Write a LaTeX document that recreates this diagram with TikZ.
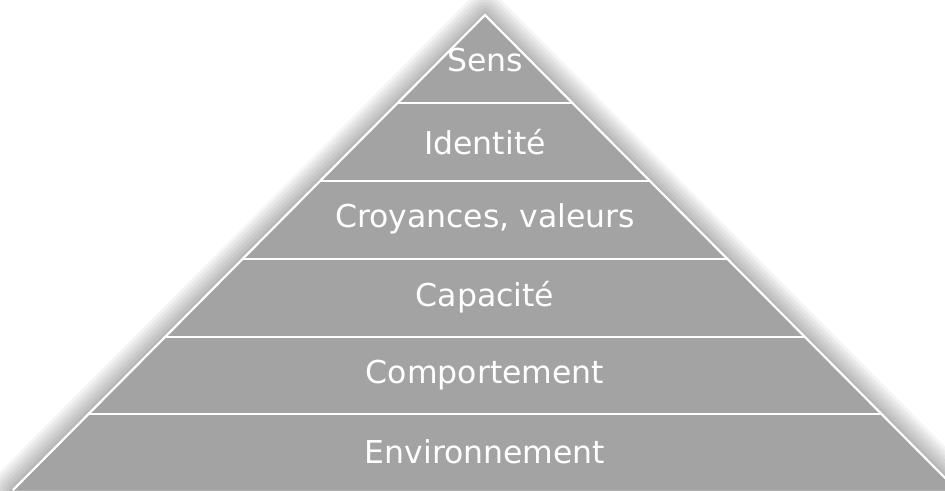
\documentclass[tikz,border=0pt]{standalone}
\usepackage{fontspec}
\setmainfont{DejaVu Sans}
\usetikzlibrary{calc}
\definecolor{pyrgray}{HTML}{A3A3A3}
\tikzset{niveau/.style={text=white,font=\fontsize{31.5}{36}\selectfont}}

\begin{document}
\begin{tikzpicture}[x=1pt,y=-1pt]
\useasboundingbox (0,0) rectangle (945,490);
\coordinate (A) at (485,15);
\coordinate (L) at (13,490);
\coordinate (R) at (957,490);
% ombre floue
\foreach \w in {44,38,32,26,20,14,8,4}
  \draw[black,opacity=0.045,line width=\w pt,line join=round] (A)--(L)--(R)--cycle;
\fill[pyrgray] (A)--(L)--(R)--cycle;
% separations
\foreach \f in {0.185,0.349,0.513,0.678,0.84}
  \draw[white,line width=2.2pt] ($(A)!\f!(L)$) -- ($(A)!\f!(R)$);
\draw[white,line width=2.2pt,line join=miter] (L)--(A)--(R);
\node[niveau] (sens) at (485,60) {Sens};
\node[niveau] (identite) at (485,142) {Identité};
\node[niveau] (croyances) at (485,219) {Croyances, valeurs};
\node[niveau] (capacite) at (485,297) {Capacité};
\node[niveau] (comportement) at (485,375) {Comportement};
\node[niveau] (environnement) at (485,452) {Environnement}; %base
\end{tikzpicture}
\end{document}
